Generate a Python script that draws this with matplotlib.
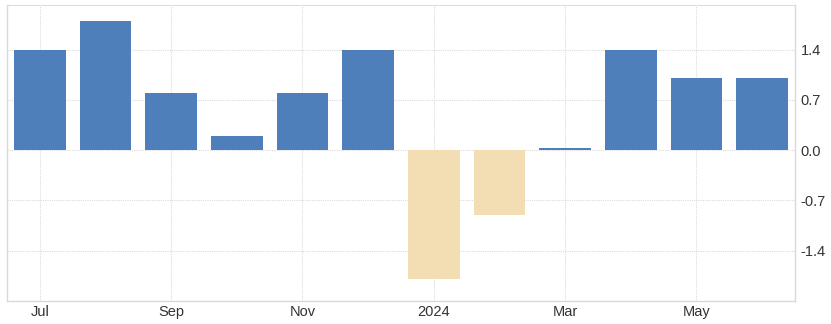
import matplotlib.pyplot as plt

# ===== DATA =====
months = ["Jul", "Aug", "Sep", "Oct", "Nov", "Dec",
          "Jan", "Feb", "Mar", "Apr", "May", "Jun"]
values = [1.4, 1.8, 0.8, 0.2, 0.8, 1.4, -1.8, -0.9, 0.03, 1.4, 1.0, 1.0]
tick_idx = [0, 2, 4, 6, 8, 10]
tick_labels = ["Jul", "Sep", "Nov", "2024", "Mar", "May"]
y_ticks = [-1.4, -0.7, 0.0, 0.7, 1.4]

POS_COLOR = "#4f7fbb"
NEG_COLOR = "#f3ddb2"
GRID_COLOR = "#dcdcdc"
TEXT_COLOR = "#333333"

plt.rcParams["font.family"] = ["Liberation Sans", "DejaVu Sans"]

fig = plt.figure(figsize=(8.31, 3.24), dpi=100)
ax = fig.add_axes([7 / 831, 23 / 324, 788 / 831, 296 / 324])

x = list(range(len(values)))
colors = [POS_COLOR if v >= 0 else NEG_COLOR for v in values]
ax.bar(x, values, width=0.79, color=colors, zorder=3)

ax.set_xlim(-0.5, 11.5)
ax.set_ylim(-2.1, 2.02)

ax.set_xticks(tick_idx)
ax.set_xticklabels(tick_labels)
ax.set_yticks(y_ticks)
ax.set_yticklabels([f"{t:.1f}" for t in y_ticks])

ax.yaxis.tick_right()
ax.grid(True, color=GRID_COLOR, linestyle=(0, (1, 1)), linewidth=0.8, zorder=0)
ax.tick_params(axis="both", length=0, labelsize=10.5, colors=TEXT_COLOR)
ax.tick_params(axis="y", pad=4)
ax.tick_params(axis="x", pad=3)

for side in ["left", "right", "bottom"]:
    ax.spines[side].set_color("#d9d9d9")
    ax.spines[side].set_linewidth(1)
ax.spines["top"].set_color(GRID_COLOR)
ax.spines["top"].set_linestyle((0, (1, 1)))
ax.spines["top"].set_linewidth(0.8)

fig.savefig("out.png", dpi=100)
